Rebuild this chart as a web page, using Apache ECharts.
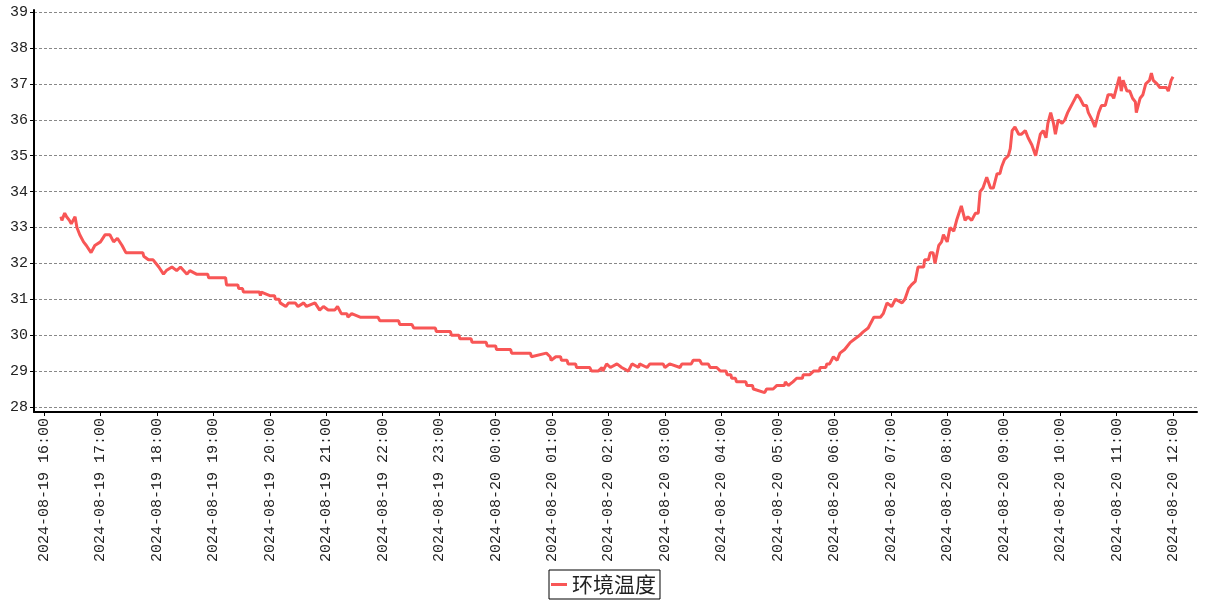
<!DOCTYPE html>
<html>
<head>
<meta charset="utf-8">
<script src="https://cdn.jsdelivr.net/npm/echarts@6/dist/echarts.min.js"></script>
<style>
html,body{margin:0;padding:0;background:#fff;}
#chart{width:1207px;height:600px;}
</style>
</head>
<body>
<div id="chart"></div>
<script>
const seriesName = '环境温度';
const times = [
'16:18','16:19','16:22','16:24','16:27','16:29','16:33','16:35','16:38','16:42','16:45','16:50','16:54',
'17:00','17:05','17:10','17:14','17:18','17:23','17:27','17:33','17:41','17:45','17:46','17:51','17:56',
'18:02','18:07','18:10','18:16','18:21','18:25','18:32','18:35','18:42','18:51','18:54','18:55',
'19:00','19:09','19:13','19:14','19:20','19:26','19:27','19:31','19:32','19:42','19:49','19:50','19:51',
'20:00','20:05','20:06','20:10','20:11','20:17','20:20','20:27','20:30','20:36','20:39','20:48','20:53','20:57',
'21:02','21:09','21:12','21:16','21:22','21:23','21:27','21:36','21:55','21:57',
'22:17','22:18','22:31','22:33','22:56','22:57',
'23:12','23:13','23:21','23:22','23:34','23:35','23:50','23:51',
'00:00','00:01','00:16','00:17','00:37','00:38','00:54','00:58','00:59',
'01:04','01:09','01:10','01:16','01:17','01:25','01:26','01:40','01:42','01:49','01:53','01:54','01:58',
'02:02','02:09','02:14','02:21','02:25','02:32','02:33','02:41','02:44','02:58',
'03:00','03:05','03:16','03:18','03:28','03:30','03:37','03:39','03:46','03:48','03:55','03:59',
'04:05','04:06','04:10','04:11','04:15','04:16','04:26','04:27','04:33','04:34','04:46','04:48','04:55','04:59',
'05:07','05:08','05:11','05:16','05:20','05:26','05:27','05:34','05:38','05:44','05:45','05:51','05:52','05:55','05:59',
'06:03','06:06','06:11','06:17','06:22','06:27','06:31','06:36','06:42','06:49','06:52','06:56',
'07:01','07:05','07:12','07:15','07:19','07:22','07:26','07:29','07:35','07:36','07:40','07:42','07:45','07:47','07:51','07:54','07:56',
'08:00','08:03','08:07','08:10','08:15','08:17','08:19','08:22','08:26','08:30','08:33','08:35','08:38','08:42','08:46','08:49','08:53','08:56','08:58',
'09:01','09:05','09:07','09:09','09:12','09:16','09:19','09:23','09:26','09:30','09:34','09:39','09:42','09:45','09:47','09:50','09:53','09:55','09:58',
'10:02','10:05','10:08','10:10','10:14','10:18','10:21','10:25','10:28','10:30','10:34','10:37','10:41','10:44','10:48','10:51','10:55','10:57',
'11:00','11:03','11:05','11:07','11:11','11:14','11:17','11:20','11:21','11:25','11:28','11:31','11:35','11:37','11:39','11:43','11:46','11:53','11:55','11:58',
'12:00'];
const temps = [
33.3,33.2,33.4,33.3,33.2,33.1,33.3,33.0,32.8,32.6,32.5,32.3,32.5,
32.6,32.8,32.8,32.6,32.7,32.5,32.3,32.3,32.3,32.3,32.2,32.1,32.1,
31.9,31.7,31.8,31.9,31.8,31.9,31.7,31.8,31.7,31.7,31.7,31.6,
31.6,31.6,31.6,31.4,31.4,31.4,31.3,31.3,31.2,31.2,31.2,31.1,31.2,
31.1,31.1,31.0,31.0,30.9,30.8,30.9,30.9,30.8,30.9,30.8,30.9,30.7,30.8,
30.7,30.7,30.8,30.6,30.6,30.5,30.6,30.5,30.5,30.4,
30.4,30.3,30.3,30.2,30.2,30.1,
30.1,30.0,30.0,29.9,29.9,29.8,29.8,29.7,
29.7,29.6,29.6,29.5,29.5,29.4,29.5,29.4,29.3,
29.4,29.4,29.3,29.3,29.2,29.2,29.1,29.1,29.0,29.0,29.1,29.0,29.2,
29.1,29.2,29.1,29.0,29.2,29.1,29.2,29.1,29.2,29.2,
29.1,29.2,29.1,29.2,29.2,29.3,29.3,29.2,29.2,29.1,29.1,29.0,
29.0,28.9,28.9,28.8,28.8,28.7,28.7,28.6,28.6,28.5,28.4,28.5,28.5,28.6,
28.6,28.7,28.6,28.7,28.8,28.8,28.9,28.9,29.0,29.0,29.1,29.1,29.2,29.2,29.4,
29.3,29.5,29.6,29.8,29.9,30.0,30.1,30.2,30.5,30.5,30.6,30.9,
30.8,31.0,30.9,31.0,31.3,31.4,31.5,31.9,31.9,32.1,32.1,32.3,32.3,32.0,32.5,32.6,32.8,
32.6,33.0,32.9,33.2,33.6,33.6,33.2,33.3,33.2,33.4,33.4,34.0,34.1,34.4,34.1,34.1,34.5,34.5,34.7,
34.9,35.0,35.2,35.7,35.8,35.6,35.6,35.7,35.5,35.3,35.0,35.6,35.7,35.5,35.9,36.2,35.9,35.6,36.0,
35.9,36.0,36.2,36.3,36.5,36.7,36.6,36.4,36.4,36.2,36.0,35.8,36.2,36.4,36.4,36.7,36.7,36.6,
36.9,37.2,36.8,37.1,36.8,36.8,36.6,36.5,36.2,36.6,36.7,37.0,37.1,37.3,37.1,37.0,36.9,36.9,36.8,37.1,
37.2];

function toTs(hm) {
  const h = parseInt(hm.slice(0, 2), 10), m = parseInt(hm.slice(3), 10);
  const day = h >= 16 ? 19 : 20;
  return new Date(2024, 7, day, h, m).getTime();
}
const data = times.map((t, i) => [toTs(t), temps[i]]);
const xMin = new Date(2024, 7, 19, 15, 49, 22).getTime();
const xMax = new Date(2024, 7, 20, 12, 25, 30).getTime();

const chart = echarts.init(document.getElementById('chart'), null, {renderer: 'canvas'});
const axisFont = 'Liberation Mono';
chart.setOption({
  animation: false,
  backgroundColor: '#fff',
  grid: {left: 34, right: 10, top: 10, bottom: 188, containLabel: false},
  legend: {
    data: [{name: seriesName, icon: 'rect'}],
    bottom: 1,
    left: 'center',
    itemWidth: 16,
    itemHeight: 3,
    itemGap: 5,
    borderColor: '#000',
    borderWidth: 1,
    borderRadius: 0,
    padding: [4, 4, 4, 2],
    textStyle: {fontSize: 21, color: '#222', fontFamily: 'Noto Sans CJK SC'}
  },
  xAxis: {
    type: 'time',
    min: xMin,
    max: xMax,
    splitNumber: 20,
    minInterval: 3600000,
    maxInterval: 3600000,
    axisLine: {show: true, lineStyle: {color: '#000', width: 2}},
    axisTick: {show: true, length: 4, lineStyle: {color: '#000'}},
    splitLine: {show: false},
    axisLabel: {
      rotate: 90,
      margin: 6,
      showMinLabel: false,
      showMaxLabel: false,
      hideOverlap: false,
      fontFamily: axisFont,
      fontSize: 15,
      color: '#222',
      formatter: v => echarts.time.format(v, '{yyyy}-{MM}-{dd} {HH}:{mm}', false)
    }
  },
  yAxis: {
    type: 'value',
    min: 27.86,
    max: 39.06,
    splitNumber: 11,
    axisLine: {show: true, lineStyle: {color: '#000', width: 2}},
    axisTick: {show: true, length: 4, lineStyle: {color: '#000'}},
    splitLine: {show: true, showMaxLine: false, showMinLine: false, lineStyle: {color: '#888', type: [3, 2], width: 1}},
    axisLabel: {
      margin: 6,
      showMinLabel: false,
      showMaxLabel: false,
      fontFamily: axisFont,
      fontSize: 15,
      color: '#222'
    }
  },
  series: [{
    name: seriesName,
    type: 'line',
    data: data,
    showSymbol: false,
    symbol: 'none',
    lineStyle: {color: '#f85656', width: 3},
    itemStyle: {color: '#f85656'}
  }]
});
</script>
</body>
</html>
